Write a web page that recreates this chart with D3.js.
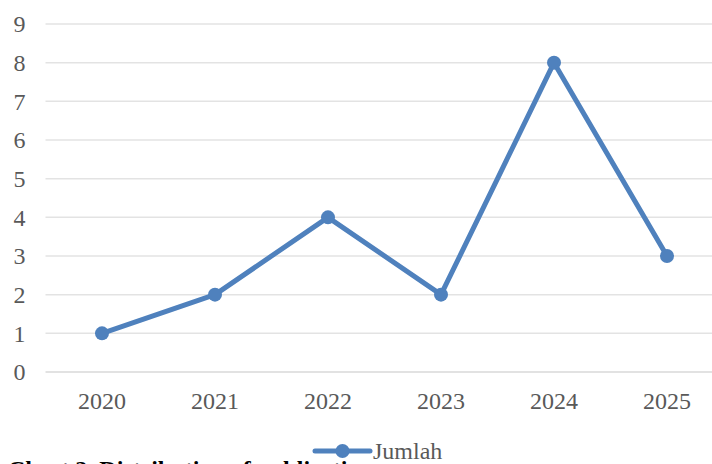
<!DOCTYPE html>
<html>
<head>
<meta charset="utf-8">
<script src="https://cdn.jsdelivr.net/npm/d3@7"></script>
<style>
	body { margin: 0; background: #fff; }
	svg { display: block; }
</style>
</head>
<body>
<script>
const years = ['2020', '2021', '2022', '2023', '2024', '2025'];
const jumlah = [1, 2, 4, 2, 8, 3];
const yTicks = [0, 1, 2, 3, 4, 5, 6, 7, 8, 9];
const seriesName = 'Jumlah';
const caption = 'Chart 2. Distribution of publications';

var svgSize = {'width' : 712, 'height' : 464};
const margin = {top: 24, right: -11.5, bottom: 92, left: 45.5};
var chartSize = {'width' : svgSize.width - margin.left - margin.right, 'height' : svgSize.height - margin.top - margin.bottom};

var svg = d3.select('body').append('svg')
	.attr('width', svgSize.width)
	.attr('height', svgSize.height)
	.style('font-family', '"Liberation Serif", "Times New Roman", serif');

var xScale = d3.scaleBand().domain(years).range([0, chartSize.width]);
var yScale = d3.scaleLinear().domain([0, 9]).range([chartSize.height, 0]);

var g = svg.append('g').attr('transform', `translate(${margin.left}, ${margin.top})`);

// gridlines
g.append('g')
	.selectAll('line')
	.data(yTicks)
	.enter()
	.append('line')
	.attr('x1', 0)
	.attr('x2', chartSize.width)
	.attr('y1', (d) => yScale(d))
	.attr('y2', (d) => yScale(d))
	.attr('stroke', (d) => d === 0 ? '#d9d9d9' : '#e3e3e3')
	.attr('stroke-width', 1.5);

// y labels
g.append('g')
	.selectAll('text')
	.data(yTicks)
	.enter()
	.append('text')
	.attr('x', -26)
	.attr('y', (d) => yScale(d))
	.attr('dy', '0.35em')
	.style('text-anchor', 'middle')
	.style('font-size', '24px')
	.attr('fill', '#595959')
	.text((d) => d);

// x labels
g.append('g')
	.selectAll('text')
	.data(years)
	.enter()
	.append('text')
	.attr('x', (d) => xScale(d) + xScale.bandwidth() / 2)
	.attr('y', chartSize.height + 37)
	.style('text-anchor', 'middle')
	.style('font-size', '24px')
	.attr('fill', '#595959')
	.text((d) => d);

var line = d3.line()
	.x((d, i) => xScale(years[i]) + xScale.bandwidth() / 2)
	.y((d) => yScale(d));

g.append('path')
	.datum(jumlah)
	.attr('d', line)
	.attr('fill', 'none')
	.attr('stroke', '#4f81bd')
	.attr('stroke-width', 5)
	.attr('stroke-linejoin', 'round');

g.selectAll('circle')
	.data(jumlah)
	.enter()
	.append('circle')
	.attr('cx', (d, i) => xScale(years[i]) + xScale.bandwidth() / 2)
	.attr('cy', (d) => yScale(d))
	.attr('r', 7)
	.attr('fill', '#4f81bd');

// caption, cut off at the bottom edge as in the original
svg.append('text')
	.attr('x', 8)
	.attr('y', 477)
	.style('font-size', '24px')
	.style('font-weight', 'bold')
	.attr('fill', '#000')
	.text(caption);

// legend
var legend = svg.append('g').attr('transform', 'translate(315, 451)');
legend.append('line')
	.attr('x1', 0).attr('x2', 55)
	.attr('y1', 0).attr('y2', 0)
	.attr('stroke', '#4f81bd')
	.attr('stroke-width', 5)
	.attr('stroke-linecap', 'round');
legend.append('circle')
	.attr('cx', 27.5).attr('cy', 0).attr('r', 7)
	.attr('fill', '#4f81bd');
legend.append('text')
	.attr('x', 58)
	.attr('y', 0)
	.attr('dy', '0.35em')
	.style('font-size', '24px')
	.attr('fill', '#595959')
	.text(seriesName);
</script>
</body>
</html>
